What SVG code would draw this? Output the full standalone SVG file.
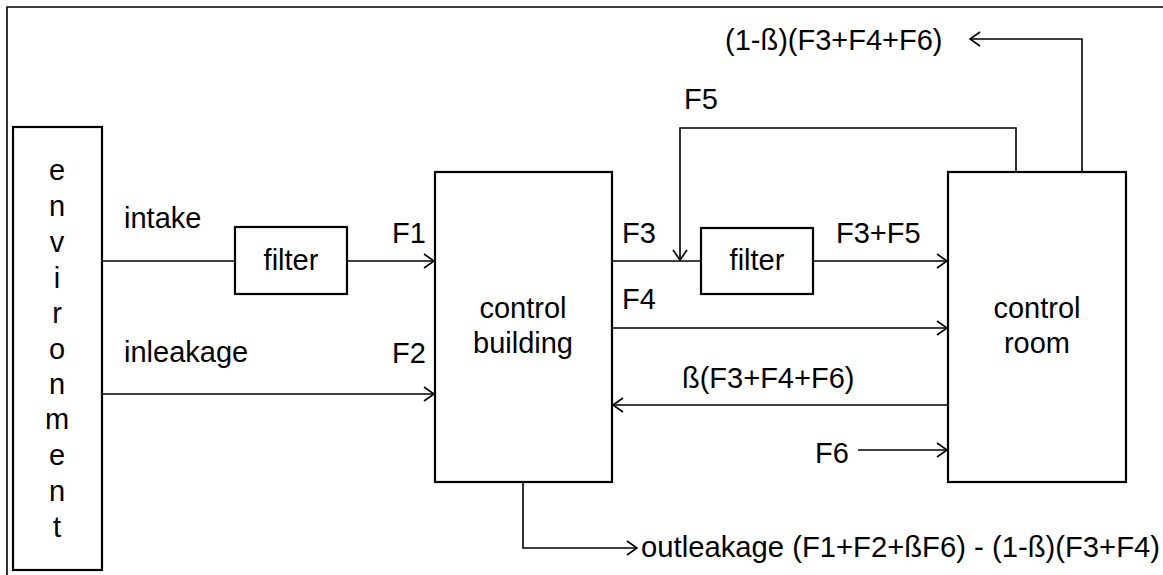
<svg xmlns="http://www.w3.org/2000/svg" width="1163" height="575" viewBox="0 0 1163 575">
<style>
text{font-family:"Liberation Sans",Arial,sans-serif;font-size:29px;fill:#000}
.box{fill:#fff;stroke:#000;stroke-width:2.2}
.ln{fill:none;stroke:#000;stroke-width:1.6}
.env{text-anchor:middle}
.mid{text-anchor:middle}
</style>
<defs>
<marker id="arr" viewBox="-12 -9 14 18" refX="0" refY="0" markerWidth="14" markerHeight="18" markerUnits="userSpaceOnUse" orient="auto">
<path d="M-10,-7 L0,0 L-10,7" fill="none" stroke="#000" stroke-width="1.6"/>
</marker>
</defs>
<rect width="1163" height="575" fill="#fff"/>
<g id="frame">
<path class="ln" d="M7,575 V7 H1163" stroke-width="2"/>
</g>
<g id="connectors">
<path class="ln" d="M102,261 H235"/>
<path class="ln" d="M347,261 H434" marker-end="url(#arr)"/>
<path class="ln" d="M102,394 H434" marker-end="url(#arr)"/>
<path class="ln" d="M612,261 H701"/>
<path class="ln" d="M1016,172 V128 H680 V260" marker-end="url(#arr)"/>
<path class="ln" d="M813,261 H947" marker-end="url(#arr)"/>
<path class="ln" d="M612,328 H947" marker-end="url(#arr)"/>
<path class="ln" d="M948,405 H613" marker-end="url(#arr)"/>
<path class="ln" d="M858,450 H947" marker-end="url(#arr)"/>
<path class="ln" d="M1082,172 V39 H970" marker-end="url(#arr)"/>
<path class="ln" d="M523,482 V548 H637" marker-end="url(#arr)"/>
</g>
<g id="environment">
<rect class="box" x="13" y="127" width="89" height="443"/>
<text class="env" x="57" y="180">e</text>
<text class="env" x="57" y="216">n</text>
<text class="env" x="57" y="252">v</text>
<text class="env" x="57" y="288">i</text>
<text class="env" x="57" y="323">r</text>
<text class="env" x="57" y="359">o</text>
<text class="env" x="57" y="394">n</text>
<text class="env" x="57" y="429">m</text>
<text class="env" x="57" y="465">e</text>
<text class="env" x="57" y="501">n</text>
<text class="env" x="57" y="537">t</text>
</g>
<g id="filter1">
<rect class="box" x="235" y="227" width="112" height="67"/>
<text class="mid" x="291" y="270">filter</text>
</g>
<g id="control-building">
<rect class="box" x="435" y="172" width="177" height="310"/>
<text class="mid" x="523" y="318">control</text>
<text class="mid" x="523" y="353">building</text>
</g>
<g id="filter2">
<rect class="box" x="701" y="228" width="112" height="66"/>
<text class="mid" x="757" y="270">filter</text>
</g>
<g id="control-room">
<rect class="box" x="948" y="172" width="178" height="310"/>
<text class="mid" x="1037" y="318">control</text>
<text class="mid" x="1037" y="353">room</text>
</g>
<g id="labels">
<text x="124" y="228">intake</text>
<text x="124" y="362">inleakage</text>
<text x="392" y="243">F1</text>
<text x="392" y="363">F2</text>
<text x="622" y="243">F3</text>
<text x="622" y="309">F4</text>
<text x="684" y="109">F5</text>
<text x="836" y="243">F3+F5</text>
<text x="725" y="50">(1-ß)(F3+F4+F6)</text>
<text x="682" y="388">ß(F3+F4+F6)</text>
<text x="815" y="463">F6</text>
<text x="641" y="557" textLength="519" lengthAdjust="spacingAndGlyphs">outleakage (F1+F2+ßF6) - (1-ß)(F3+F4)</text>
</g>
</svg>
